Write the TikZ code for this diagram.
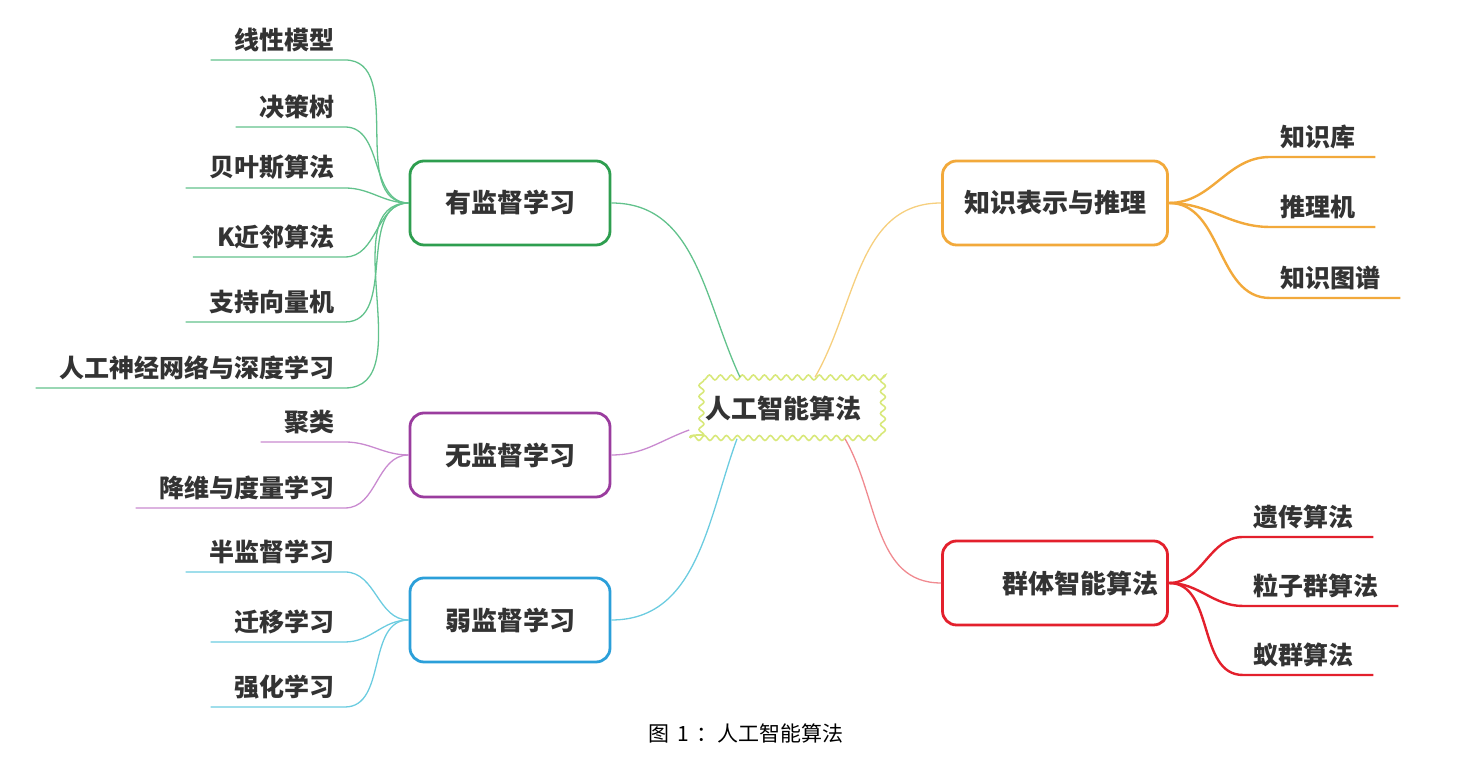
\documentclass[tikz,border=0pt]{standalone}
\usepackage{fontspec}
\setmainfont{Noto Sans CJK SC}
\usetikzlibrary{decorations.pathmorphing}

\definecolor{ink}{HTML}{333333}
\definecolor{supc}{HTML}{2E9E4F}
\definecolor{supl}{HTML}{62C28C}
\definecolor{unsc}{HTML}{9A3C9E}
\definecolor{unsl}{HTML}{C98AD0}
\definecolor{weakc}{HTML}{2B9FD9}
\definecolor{weakl}{HTML}{6CCCE0}
\definecolor{knowc}{HTML}{F2A93B}
\definecolor{knowl}{HTML}{F6CF7E}
\definecolor{swarmc}{HTML}{E3202C}
\definecolor{swarml}{HTML}{F08A90}
\definecolor{rootc}{HTML}{D8E87A}

\begin{document}
\begin{tikzpicture}[x=1pt,y=1pt]
	\tikzset{topic/.style={draw, fill=white, rounded corners=14pt, line width=2.8pt, minimum width=200pt, minimum height=84pt, text=ink, font=\fontsize{26}{30}\selectfont\bfseries}}
	\tikzset{rootbox/.style={draw=rootc, line width=1.6pt, decorate, decoration={snake, amplitude=2.5pt, segment length=11pt}, minimum width=186pt, minimum height=60pt, text=ink, font=\fontsize{26}{30}\selectfont\bfseries}}
	\tikzset{leaf/.style={text=ink, inner xsep=10pt, inner ysep=8pt, font=\fontsize{25}{30}\selectfont\bfseries}}
	\tikzset{twig/.style={line width=1.3pt}}
	\tikzset{branch/.style={line width=2.4pt}}
	\useasboundingbox (0,0) rectangle (1468,759);

	% centre and main topics
	\node[rootbox]					(root)	at (783,351)	{人工智能算法};
	\node[topic, draw=supc]			(sup)	at (510,556)	{有监督学习};
	\node[topic, draw=unsc]			(uns)	at (510,304)	{无监督学习};
	\node[topic, draw=weakc]		(weak)	at (510,139)	{弱监督学习};
	\node[topic, draw=knowc, minimum width=225pt]	(know)	at (1055,556)	{知识表示与推理};
	\node[topic, draw=swarmc, minimum width=225pt]	(swarm)	at (1055,176)	{\hspace{50pt}群体智能算法};

	% left leaves
	\node[leaf, anchor=south east]	(sup1)	at (345,699)	{线性模型};
	\node[leaf, anchor=south east]	(sup2)	at (345,632)	{决策树};
	\node[leaf, anchor=south east]	(sup3)	at (345,571)	{贝叶斯算法};
	\node[leaf, anchor=south east]	(sup4)	at (345,502)	{K近邻算法};
	\node[leaf, anchor=south east]	(sup5)	at (345,437)	{支持向量机};
	\node[leaf, anchor=south east]	(sup6)	at (345,371)	{人工神经网络与深度学习};
	\node[leaf, anchor=south east]	(uns1)	at (345,317)	{聚类};
	\node[leaf, anchor=south east]	(uns2)	at (345,251)	{降维与度量学习};
	\node[leaf, anchor=south east]	(weak1)	at (345,187)	{半监督学习};
	\node[leaf, anchor=south east]	(weak2)	at (345,117)	{迁移学习};
	\node[leaf, anchor=south east]	(weak3)	at (345,52)		{强化学习};

	% right leaves
	\node[leaf, anchor=south west]	(know1)	at (1270,602)	{知识库};
	\node[leaf, anchor=south west]	(know2)	at (1270,532)	{推理机};
	\node[leaf, anchor=south west]	(know3)	at (1270,461)	{知识图谱};
	\node[leaf, anchor=south west]	(swarm1) at (1243,222)	{遗传算法};
	\node[leaf, anchor=south west]	(swarm2) at (1243,153)	{粒子群算法};
	\node[leaf, anchor=south west]	(swarm3) at (1243,84)	{蚁群算法};

	% centre to topics
	\draw[twig, supl]	([xshift=-43pt]root.north) to[out=115, in=0] (sup.east);
	\draw[twig, knowl]	([xshift=32pt]root.north) to[out=60, in=180] (know.west);
	\draw[twig, unsl]	([yshift=-22pt]root.west) to[out=200, in=0] (uns.east);
	\draw[twig, weakl]	([xshift=-46pt]root.south) to[out=250, in=0] (weak.east);
	\draw[twig, swarml]	([xshift=62pt]root.south) to[out=-60, in=180] (swarm.west);

	% topics to leaves
	\foreach \l in {sup1,sup2,sup3,sup4,sup5,sup6}
		\draw[twig, supl] ([xshift=-14pt]\l.south west) -- (\l.south east) to[out=0, in=180] (sup.west);
	\foreach \l in {uns1,uns2}
		\draw[twig, unsl] ([xshift=-14pt]\l.south west) -- (\l.south east) to[out=0, in=180] (uns.west);
	\foreach \l in {weak1,weak2,weak3}
		\draw[twig, weakl] ([xshift=-14pt]\l.south west) -- (\l.south east) to[out=0, in=180] (weak.west);
	\foreach \l in {know1,know2,know3}
		\draw[branch, knowc] (know.east) to[out=0, in=180] (\l.south west) -- ([xshift=10pt]\l.south east);
	\foreach \l in {swarm1,swarm2,swarm3}
		\draw[branch, swarmc] (swarm.east) to[out=0, in=180] (\l.south west) -- ([xshift=10pt]\l.south east);

	\node[font=\fontsize{21}{24}\selectfont] (cap) at (746,26) {图\hspace{8pt}1\hspace{8pt}：人工智能算法};
\end{tikzpicture}
\end{document}
